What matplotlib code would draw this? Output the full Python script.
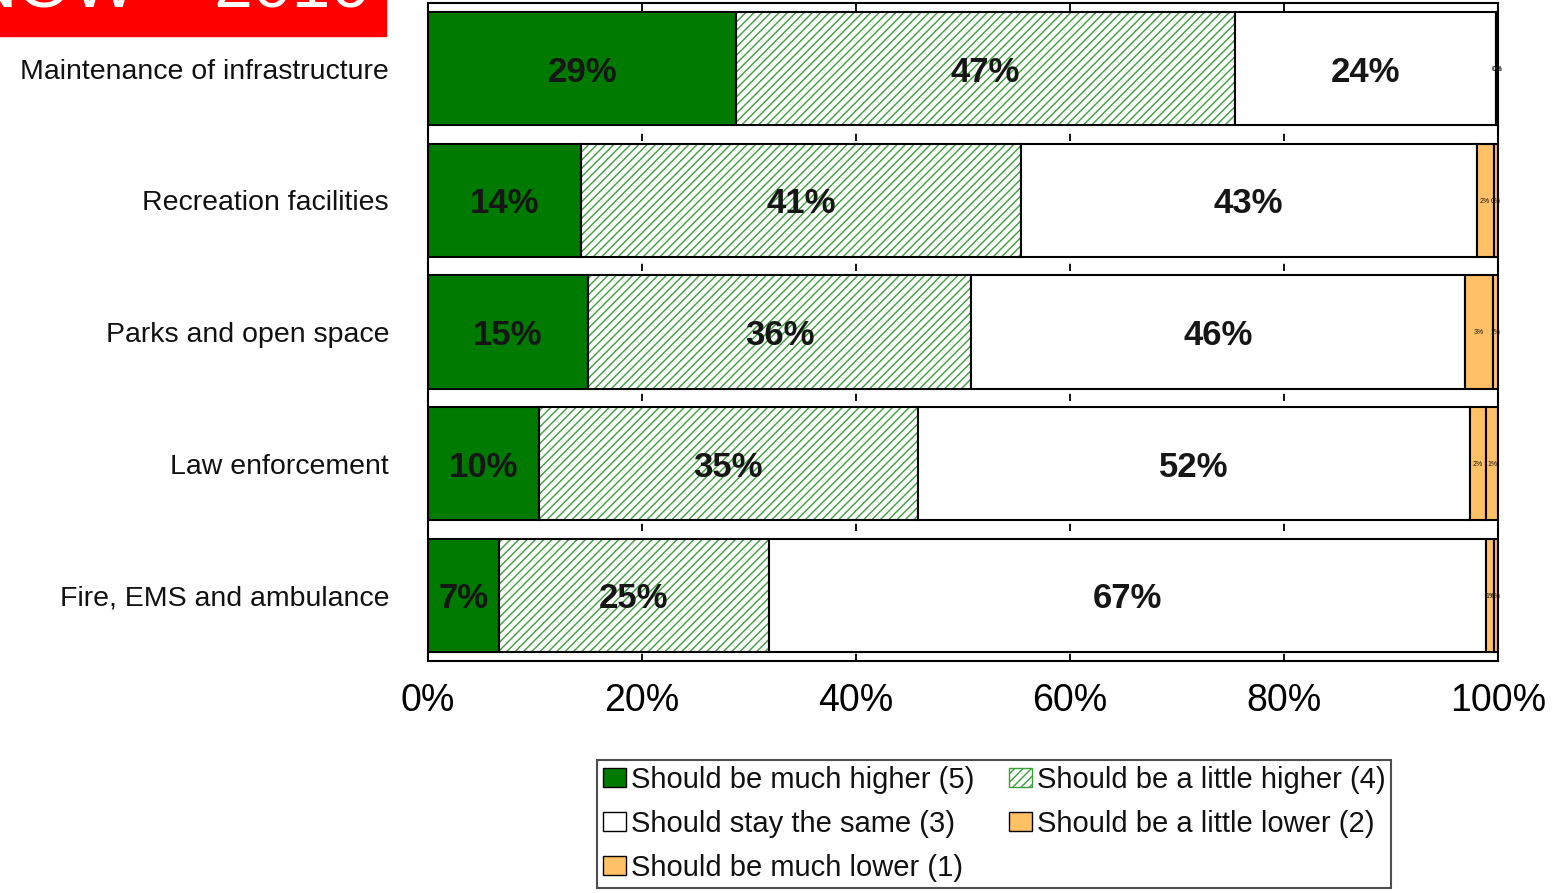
import matplotlib
matplotlib.use("Agg")
import matplotlib.pyplot as plt
from matplotlib.patches import Rectangle, Patch
import numpy as np

plt.rcParams['font.family'] = ['Liberation Sans', 'DejaVu Sans']
plt.rcParams['hatch.linewidth'] = 1.0

# survey rows, top to bottom
categories = ["Maintenance of infrastructure", "Recreation facilities",
              "Parks and open space", "Law enforcement",
              "Fire, EMS and ambulance"]

much_higher = [28.8, 14.3, 14.95, 10.37, 6.6]
little_higher = [46.6, 41.1, 35.8, 35.4, 25.3]
stay_same = [24.4, 42.6, 46.2, 51.6, 67.0]
little_lower = [0.1, 1.6, 2.55, 1.55, 0.75]
much_lower = [0.1, 0.4, 0.55, 1.07, 0.35]

series_names = ["Should be much higher (5)", "Should be a little higher (4)",
                "Should stay the same (3)", "Should be a little lower (2)",
                "Should be much lower (1)"]
xticks = [0, 20, 40, 60, 80, 100]

GREEN = '#007a00'
HATCH_GREEN = '#3aa03a'
ORANGE = '#ffc066'

fig = plt.figure(figsize=(15.57, 8.93), dpi=100)
ax = fig.add_axes([428 / 1557, 1 - 661 / 893, 1070 / 1557, 658 / 893])

y = np.arange(len(categories))
h = 0.86
series = [much_higher, little_higher, stay_same, little_lower, much_lower]
left = np.zeros(len(categories))

for i, vals in enumerate(series):
    vals = np.array(vals)
    if i == 1:
        # hatch drawn in green first, black outline on top
        ax.barh(y, vals, h, left=left, color='white', edgecolor=HATCH_GREEN,
                hatch='////', linewidth=0, zorder=2)
        ax.barh(y, vals, h, left=left, fill=False, edgecolor='black',
                linewidth=1.5, zorder=3)
    else:
        fc = {0: GREEN, 2: 'white'}.get(i, ORANGE)
        ax.barh(y, vals, h, left=left, color=fc, edgecolor='black',
                linewidth=1.5, zorder=3)
    for yy, l, v in zip(y, left, vals):
        if i < 3:
            ax.text(l + v / 2, yy, f"{v:.0f}%", ha='center',
                    va='center_baseline', fontsize=25, fontweight='bold',
                    color='#161616', zorder=5)
        else:
            ax.text(l + v / 2, yy, f"{v:.0f}%", ha='center',
                    va='center_baseline', fontsize=5, color='#161616',
                    zorder=5)
    left = left + vals

ax.set_xlim(0, 100)
ax.set_ylim(len(categories) - 0.5, -0.5)
ax.set_xticks(xticks)
ax.set_xticklabels([f"{t}%" for t in xticks], fontsize=27)
ax.set_yticks(y)
ax.set_yticklabels(categories, fontsize=20.5, color='#111111')
ax.tick_params(axis='x', length=0, pad=16)
ax.tick_params(axis='y', length=0, pad=28)
for t in xticks[1:-1]:
    ax.axvline(t, color='black', linestyle=(0, (4, 5)), linewidth=1.3, zorder=1)
for s in ax.spines.values():
    s.set_linewidth(1.5)
    s.set_zorder(4)

# red banner in the corner
fig.patches.append(Rectangle((0, 1 - 36 / 893), 386 / 1557, 36 / 893,
                             transform=fig.transFigure, color='#ff0000',
                             zorder=0))
fig.text(-33 / 1557, 1 - 8 / 893, "NOW \u2013 2016", color='white',
         fontsize=50, ha='left', va='baseline')

handles = [
    Patch(facecolor=GREEN, edgecolor='black', label=series_names[0]),
    Patch(facecolor='white', edgecolor='black', label=series_names[2]),
    Patch(facecolor=ORANGE, edgecolor='black', label=series_names[4]),
    Patch(facecolor='white', edgecolor=HATCH_GREEN, hatch='////',
          label=series_names[1]),
    Patch(facecolor=ORANGE, edgecolor='black', label=series_names[3]),
]
leg = fig.legend(handles=handles, ncol=2, loc='upper left',
                 bbox_to_anchor=(597 / 1557, 1 - 760 / 893),
                 fontsize=21, frameon=True, fancybox=False, shadow=False,
                 handlelength=0.8, handleheight=0.65, handletextpad=0.15,
                 columnspacing=1.2, labelspacing=0.55, borderpad=0.2,
                 borderaxespad=0)
leg.get_frame().set_edgecolor('#222222')
leg.get_frame().set_linewidth(1.5)
for t in leg.get_texts():
    t.set_color('#111111')

fig.savefig("out.png", dpi=100)
